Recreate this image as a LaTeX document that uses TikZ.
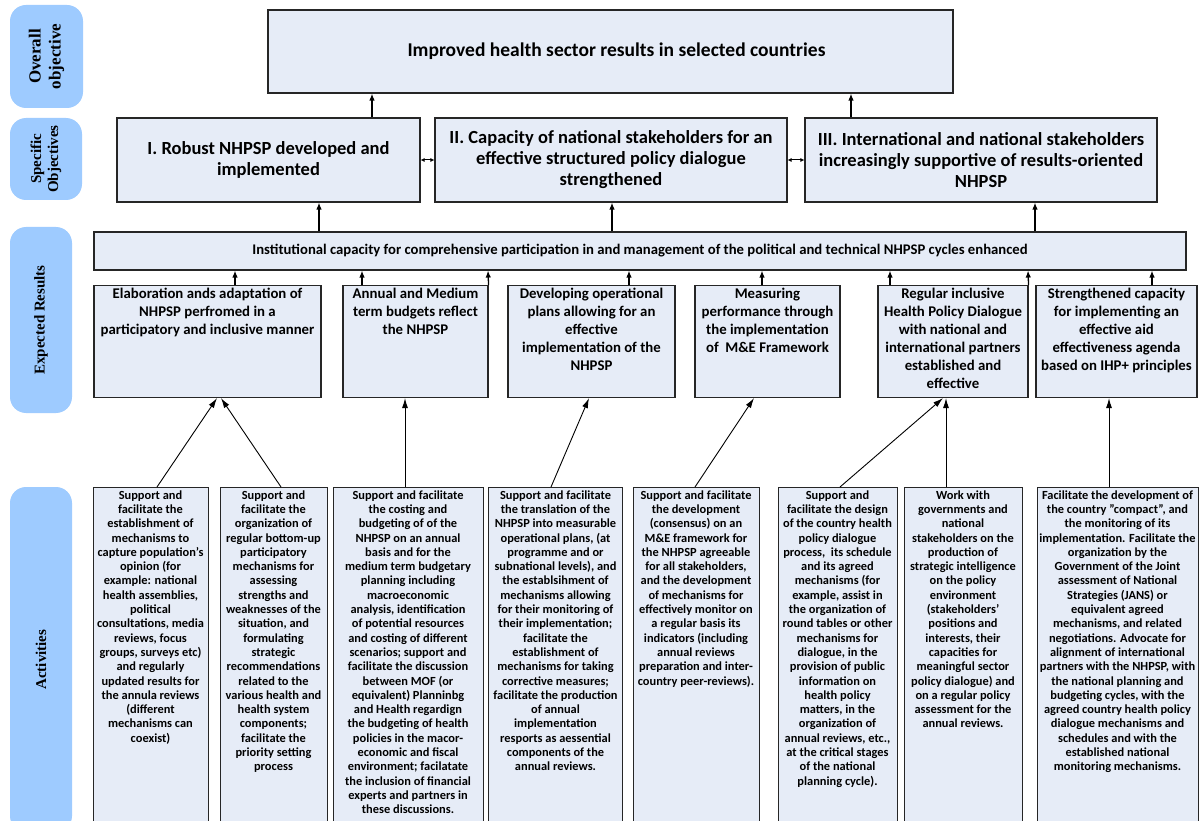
\documentclass[tikz,border=0pt]{standalone}
\usepackage{fontspec}
\setmainfont{Carlito}
\newfontfamily\pillfont{Liberation Serif}
\usetikzlibrary{arrows.meta}

\definecolor{boxfill}{RGB}{230,236,247}
\definecolor{pillblue}{RGB}{158,203,255}

% top aligned text inside a box: height, width, text
\newcommand{\boxtext}[3]{\parbox[t][#1][t]{#2}{\centering #3}}
\newcommand{\dq}{\char34\relax}

\tikzset{
  pill/.style={fill=pillblue, rounded corners=16pt, rotate=90, align=center,
    inner sep=0pt, font=\pillfont\bfseries\fontsize{15}{17}\selectfont},
  box/.style={draw=black!85, line width=1.1pt, fill=boxfill, align=center, inner sep=2pt},
  sobox/.style={box, minimum height=84pt, font=\bfseries\fontsize{18.5}{21}\selectfont},
  erbox/.style={box, anchor=north, inner xsep=2pt, inner ysep=3pt,
    font=\bfseries\fontsize{14.8}{18}\selectfont},
  actbox/.style={box, anchor=north, inner xsep=2pt, inner ysep=3pt, line width=0.9pt,
    font=\bfseries\fontsize{12.4}{14.3}\selectfont},
  arr/.style={-{Latex[length=7pt,width=5.5pt]}, line width=1.3pt},
  actarr/.style={-{Latex[length=10pt,width=6pt]}, line width=0.9pt},
  dbl/.style={{Latex[length=4pt,width=4pt]}-{Latex[length=4pt,width=4pt]}, line width=1pt}
}

\begin{document}
\begin{tikzpicture}[x=1pt,y=-1pt]
\useasboundingbox (0,0) rectangle (1200,821);

% Levels
\node[pill, minimum width=103pt, minimum height=73pt,
  font=\pillfont\bfseries\fontsize{17}{20}\selectfont] (lvlgoal) at (46.5,56.5) {Overall\\objective};
\node[pill, minimum width=82pt, minimum height=72pt] (lvlso) at (46,159) {Specific\\Objectives};
\node[pill, minimum width=186pt, minimum height=62pt] (lvler) at (41,320) {Expected Results};
\node[pill, minimum width=345pt, minimum height=62pt] (lvlact) at (41,659.5) {Activities};

% Objectives
\node[box, minimum width=685pt, minimum height=83pt,
  font=\bfseries\fontsize{19.5}{22}\selectfont] (goal) at (610.5,51.5)
  {\hspace*{12pt}Improved health sector results in selected countries};
\node[sobox, minimum width=303pt] (so1) at (268.5,160)
  {I. Robust NHPSP developed and\\implemented};
\node[sobox, minimum width=352pt] (so2) at (611,160)
  {II. Capacity of national stakeholders for an\\effective structured policy dialogue\\strengthened};
\node[sobox, minimum width=352pt] (so3) at (981,160)
  {III. International and national stakeholders\\increasingly supportive of results-oriented\\NHPSP};

% Expected results
\node[box, minimum width=1092pt, minimum height=38pt,
  font=\bfseries\fontsize{14.7}{17}\selectfont] (inst) at (640,251)
  {Institutional capacity for comprehensive participation in and management of the political and technical NHPSP cycles enhanced};
\node[erbox] (er1) at (207.5,285) {\boxtext{106pt}{223pt}{Elaboration ands adaptation of\\NHPSP perfromed in a\\participatory and inclusive manner}};
\node[erbox] (er2) at (415.5,285) {\boxtext{106pt}{141pt}{Annual and Medium\\term budgets reflect\\the NHPSP}};
\node[erbox] (er3) at (591.5,285) {\boxtext{106pt}{163pt}{Developing operational\\plans allowing for an\\effective\\implementation of the\\NHPSP}};
\node[erbox] (er4) at (767.5,285) {\boxtext{106pt}{141pt}{Measuring\\performance through\\the implementation\\of~ M\&E Framework}};
\node[erbox] (er5) at (953,285) {\boxtext{106pt}{146pt}{Regular inclusive\\Health Policy Dialogue\\with national and\\international partners\\established and\\effective}};
\node[erbox] (er6) at (1116.5,285) {\boxtext{106pt}{157pt}{Strengthened capacity\\for implementing an\\effective aid\\effectiveness agenda\\based on IHP+ principles}};

% Activities
\node[actbox] (a1) at (150.5,487) {\boxtext{337pt}{111pt}{Support and\\facilitate the\\establishment of\\mechanisms to\\capture population’s\\opinion (for\\example: national\\health assemblies,\\political\\consultations, media\\reviews, focus\\groups, surveys etc)\\and regularly\\updated results for\\the annula reviews\\(different\\mechanisms can\\coexist)}};
\node[actbox] (a2) at (273.5,487) {\boxtext{337pt}{103pt}{Support and\\facilitate the\\organization of\\regular bottom-up\\participatory\\mechanisms for\\assessing\\strengths and\\weaknesses of the\\situation, and\\formulating\\strategic\\recommendations\\related to the\\various health and\\health system\\components;\\facilitate the\\priority setting\\process}};
\node[actbox] (a3) at (408,487) {\boxtext{337pt}{146pt}{Support and facilitate\\the costing and\\budgeting of of the\\NHPSP on an annual\\basis and for the\\medium term budgetary\\planning including\\macroeconomic\\analysis, identification\\of potential resources\\and costing of different\\scenarios; support and\\facilitate the discussion\\between MOF (or\\equivalent) Planninbg\\and Health regardign\\the budgeting of health\\policies in the macor-\\economic and fiscal\\environment; facilatate\\the inclusion of financial\\experts and partners in\\these discussions.}};
\node[actbox] (a4) at (555.5,487) {\boxtext{337pt}{130pt}{Support and facilitate\\the translation of the\\NHPSP into measurable\\operational plans, (at\\programme and or\\subnational levels), and\\the establsihment of\\mechanisms allowing\\for their monitoring of\\their implementation;\\facilitate the\\establishment of\\mechanisms for taking\\corrective measures;\\facilitate the production\\of annual\\implementation\\resports as aessential\\components of the\\annual reviews.}};
\node[actbox] (a5) at (696,487) {\boxtext{337pt}{122pt}{Support and facilitate\\the development\\(consensus) on an\\M\&E framework for\\the NHPSP agreeable\\for all stakeholders,\\and the development\\of mechanisms for\\effectively monitor on\\a regular basis its\\indicators (including\\annual reviews\\preparation and inter-\\country peer-reviews).}};
\node[actbox] (a6) at (837.5,487) {\boxtext{337pt}{115pt}{Support and\\facilitate the design\\of the country health\\policy dialogue\\process,~ its schedule\\and its agreed\\mechanisms (for\\example, assist in\\the organization of\\round tables or other\\mechanisms for\\dialogue, in the\\provision of public\\information on\\health policy\\matters, in the\\organization of\\annual reviews, etc.,\\at the critical stages\\of the national\\planning cycle).}};
\node[actbox] (a7) at (963,487) {\boxtext{337pt}{114pt}{Work with\\governments and\\national\\stakeholders on the\\production of\\strategic intelligence\\on the policy\\environment\\(stakeholders'\\positions and\\interests, their\\capacities for\\meaningful sector\\policy dialogue) and\\on a regular policy\\assessment for the\\annual reviews.}};
\node[actbox] (a8) at (1117.5,487) {\boxtext{337pt}{157pt}{Facilitate the development of\\the country \dq compact\dq, and\\the monitoring of its\\implementation. Facilitate the\\organization by the\\Government of the Joint\\assessment of National\\Strategies (JANS) or\\equivalent agreed\\mechanisms, and related\\negotiations. Advocate for\\alignment of international\\partners with the NHPSP, with\\the national planning and\\budgeting cycles, with the\\agreed country health policy\\dialogue mechanisms and\\schedules and with the\\established national\\monitoring mechanisms.}};

% Links between objectives
\draw[arr] ([xshift=103.5pt]so1.north) -- ([xshift=-238.5pt]goal.south);
\draw[arr] ([xshift=-130pt]so3.north) -- ([xshift=240.5pt]goal.south);
\draw[dbl] (so1.east) -- (so2.west);
\draw[dbl] (so2.east) -- (so3.west);
\draw[arr] ([xshift=-321pt]inst.north) -- ([xshift=50.5pt]so1.south);
\draw[arr] ([xshift=-28pt]inst.north) -- ([xshift=1pt]so2.south);
\draw[arr] ([xshift=395pt]inst.north) -- ([xshift=54pt]so3.south);

% Results to institutional capacity
\draw[arr] ([xshift=27.5pt]er1.north) -- ([xshift=-405pt]inst.south);
\draw[arr] ([xshift=-53.5pt]er2.north) -- ([xshift=-278pt]inst.south);
\draw[arr] (er2.north east) -- ([xshift=-152pt]inst.south);
\draw[arr] ([xshift=37.5pt]er3.north) -- ([xshift=-11pt]inst.south);
\draw[arr] ([xshift=-5.5pt]er4.north) -- ([xshift=122pt]inst.south);
\draw[arr] ([xshift=-63pt]er5.north) -- ([xshift=250pt]inst.south);
\draw[arr] (er5.north east) -- ([xshift=388pt]inst.south);
\draw[arr] ([xshift=35.5pt]er6.north) -- ([xshift=512pt]inst.south);

% Activities to results
\draw[actarr] ([xshift=6.5pt]a1.north) -- ([xshift=9.5pt]er1.south);
\draw[actarr] ([xshift=7.5pt]a2.north) -- ([xshift=13.5pt]er1.south);
\draw[actarr] ([xshift=-3pt]a3.north) -- ([xshift=-10.5pt]er2.south);
\draw[actarr] ([xshift=-4.5pt]a4.north) -- ([xshift=-2.5pt]er3.south);
\draw[actarr] ([xshift=-1pt]a5.north) -- ([xshift=-13.5pt]er4.south);
\draw[actarr] ([xshift=2.5pt]a6.north) -- ([xshift=-10pt]er5.south);
\draw[actarr] ([xshift=-17pt]a7.north) -- ([xshift=-7pt]er5.south);
\draw[actarr] ([xshift=-8.5pt]a8.north) -- ([xshift=-7.5pt]er6.south);
\end{tikzpicture}
\end{document}
